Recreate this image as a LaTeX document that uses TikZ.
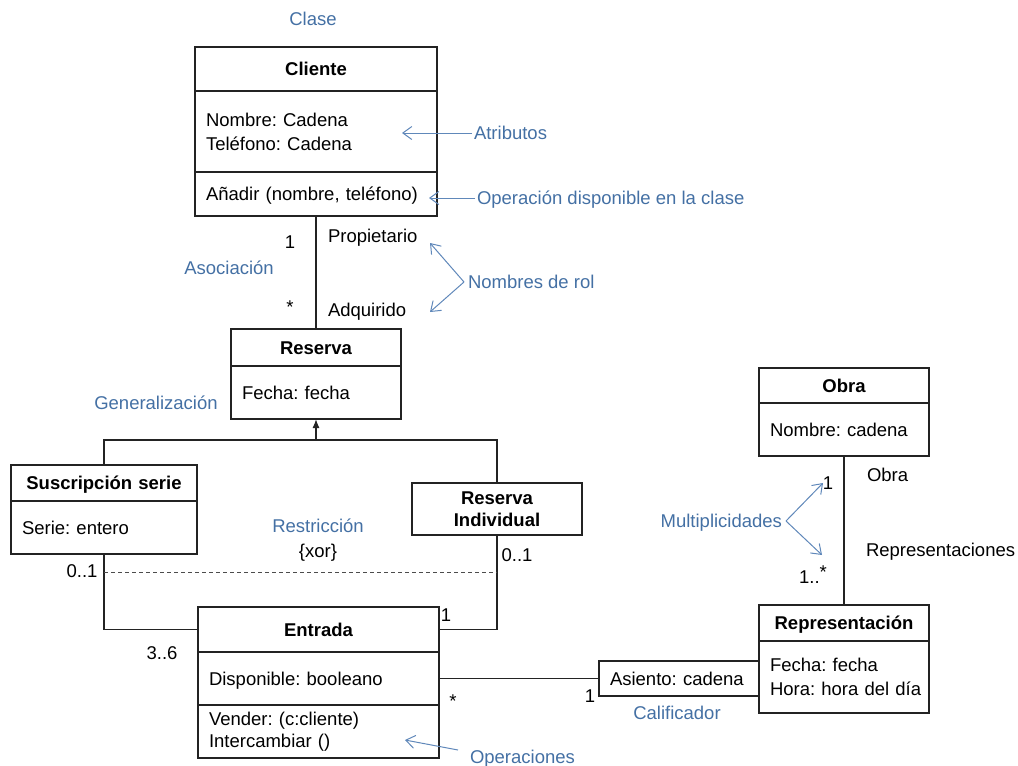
\documentclass[tikz,border=0pt]{standalone}
\usepackage{fontspec}
\setmainfont{Liberation Sans}
\usetikzlibrary{arrows.meta}
\definecolor{notetext}{RGB}{68,112,164}
\definecolor{notearrow}{RGB}{96,136,186}
\definecolor{linecol}{RGB}{35,35,35}

\begin{document}
\begin{tikzpicture}[x=1pt,y=-1pt,
  every node/.style={font=\fontsize{18.5}{24}\selectfont, inner sep=0pt, outer sep=0pt},
  comp/.style={draw=linecol, line width=1.3pt, anchor=north west,
               inner xsep=11pt, inner ysep=0pt, align=left},
  ttl/.style={comp, align=center, font=\fontsize{18.5}{24}\selectfont\bfseries},
  one/.style={text height=13pt, text depth=0pt},
  note/.style={one, text=notetext},
  notearr/.style={draw=notearrow, line width=1pt,
                  -{Straight Barb[length=9pt,width=13pt]}},
  assoc/.style={draw=linecol, line width=1.3pt},
  xorline/.style={draw=black!70, line width=1pt, dash pattern=on 4pt off 3pt},
]
\useasboundingbox (0,0) rectangle (1018,766);

% ---------- classes ----------
% Cliente
\node[ttl, one, minimum width=242pt, minimum height=44pt, text width=220pt] (cliT) at (195,47) {Cliente};
\node[comp, minimum width=242pt, minimum height=81pt, text width=220pt] (cliA) at (cliT.south west) {Nombre:~Cadena\\Teléfono:~Cadena};
\node[comp, one, minimum width=242pt, minimum height=44pt, text width=220pt] (cliO) at (cliA.south west) {Añadir~(nombre,~teléfono)};

% Reserva
\node[ttl, one, minimum width=170pt, minimum height=37pt, text width=148pt] (resT) at (231,329) {Reserva};
\node[comp, one, minimum width=170pt, minimum height=53pt, text width=148pt] (resA) at (resT.south west) {Fecha:~fecha};

% Suscripción serie
\node[ttl, one, minimum width=186pt, minimum height=36pt, text width=164pt] (susT) at (11,465) {Suscripción serie};
\node[comp, one, minimum width=186pt, minimum height=53pt, text width=164pt] (susA) at (susT.south west) {Serie:~entero};

% Reserva Individual
\node[ttl, minimum width=170pt, minimum height=52pt, text width=148pt] (riT) at (412,483) {Reserva\\[-2pt]Individual};

% Entrada
\node[ttl, one, minimum width=241pt, minimum height=45pt, text width=219pt] (entT) at (198,607) {Entrada};
\node[comp, one, minimum width=241pt, minimum height=53pt, text width=219pt] (entA) at (entT.south west) {Disponible:~booleano};
\node[comp, minimum width=241pt, minimum height=53pt, text width=219pt] (entO) at (entA.south west) {Vender:~(c:cliente)\\[-2pt]Intercambiar~()};

% Obra
\node[ttl, one, minimum width=170pt, minimum height=35pt, text width=148pt] (obT) at (759,368) {Obra};
\node[comp, one, minimum width=170pt, minimum height=53pt, text width=148pt] (obA) at (obT.south west) {Nombre:~cadena};

% Representación
\node[ttl, one, minimum width=170pt, minimum height=36pt, text width=148pt] (repT) at (759,605) {Representación};
\node[comp, minimum width=170pt, minimum height=72pt, text width=148pt] (repA) at (repT.south west) {Fecha:~fecha\\Hora:~hora~del~día};

% qualifier
\node[comp, one, minimum width=160pt, minimum height=35pt, text width=138pt] (qual) at (599,661) {Asiento:~cadena};

% ---------- associations ----------
\draw[assoc] (cliO.south) -- (resT.north);

\coordinate (genJ) at (316,440);
\draw[assoc] (susT.north) |- (genJ) -| (riT.north);
\draw[assoc, -{Latex[length=9pt,width=7pt]}] (genJ) -- (resA.south);

\draw[assoc] (susA.south) |- (entT.west);
\draw[assoc] (riT.south) |- (entT.east);

\coordinate (xorY) at (0,572);
\draw[xorline] (susA.south |- xorY) -- (riT.south |- xorY);

\draw[assoc] (entA.east) -- (qual.west);
\draw[assoc] (obA.south) -- (repT.north);

% ---------- role names and multiplicities ----------
\node[one] (m1) at (290,242) {1};
\node[one] (m2) at (290,307) {*};
\node[one, anchor=west] (rProp) at (328,236) {Propietario};
\node[one, anchor=west] (rAdq) at (328,310) {Adquirido};

\node[one] (m3) at (82,571) {0..1};
\node[one] (m4) at (517,555) {0..1};
\node[one] (m5) at (446,615) {1};
\node[one] (m6) at (162,653) {3..6};
\node[one] (m7) at (453,701) {*};
\node[one] (m8) at (590,696) {1};

\node[one] (xor) at (318,551) {\{xor\}};

\node[one, anchor=west] (rObra) at (867,475) {Obra};
\node[one, anchor=west] (rRep) at (866,550) {Representaciones};
\node[one] (m9) at (828,483) {1};
\node[one] (m10) at (813,577) {1..\raisebox{5pt}{*}};

% ---------- annotations ----------
\node[note] (lClase) at (313,19) {Clase};

\node[note, anchor=west] (lAtr) at (474,133) {Atributos};
\coordinate (atrTip) at (402,133);
\draw[notearr] ([xshift=-2pt]lAtr.west) -- (atrTip);

\node[note, anchor=west] (lOp) at (477,198) {Operación disponible en la clase};
\coordinate (opTip) at (429,198);
\draw[notearr] ([xshift=-2pt]lOp.west) -- (opTip);

\node[note] (lAsoc) at (229,268) {Asociación};

\node[note, anchor=west] (lRol) at (468,282) {Nombres de rol};
\coordinate (rolTipA) at (430,243);
\coordinate (rolTipB) at (430,312);
\draw[notearr] ([xshift=-4pt]lRol.west) -- (rolTipA);
\draw[notearr] ([xshift=-4pt]lRol.west) -- (rolTipB);

\node[note] (lGen) at (156,403) {Generalización};
\node[note] (lRes) at (318,526) {Restricción};

\node[note, anchor=east] (lMul) at (782,521) {Multiplicidades};
\coordinate (mulTipA) at (823,483);
\coordinate (mulTipB) at (822,555);
\draw[notearr] ([xshift=4pt]lMul.east) -- (mulTipA);
\draw[notearr] ([xshift=4pt]lMul.east) -- (mulTipB);

\node[note] (lCal) at (677,713) {Calificador};

\node[note, anchor=west] (lOps) at (470,757) {Operaciones};
\coordinate (opsTip) at (405,740);
\draw[notearr] ([shift={(-12pt,7pt)}]lOps.west) -- (opsTip);

\end{tikzpicture}
\end{document}
